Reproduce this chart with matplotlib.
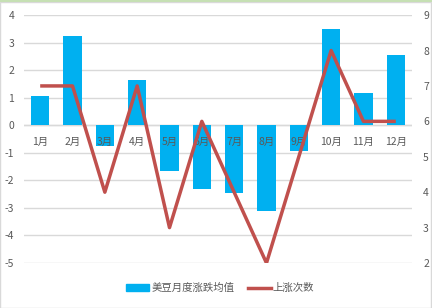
import matplotlib.pyplot as plt
import numpy as np
from matplotlib.lines import Line2D
from matplotlib.patches import Patch, Rectangle

plt.rcParams['font.family'] = ['Noto Sans CJK SC', 'DejaVu Sans']
plt.rcParams['axes.unicode_minus'] = False

months = ['1月', '2月', '3月', '4月', '5月', '6月', '7月', '8月', '9月', '10月', '11月', '12月']
avg_change = [1.05, 3.24, -0.75, 1.65, -1.65, -2.3, -2.47, -3.1, -0.92, 3.5, 1.17, 2.55]
up_count = [7, 7, 4, 7, 3, 6, 4, 2, 5, 8, 6, 6]
bar_name = '美豆月度涨跌均值'
line_name = '上涨次数'

bar_color = '#00B0F0'
line_color = '#C0504D'
txt_color = '#595959'

fig = plt.figure(figsize=(4.32, 3.08), dpi=100)
ax = fig.add_axes([0.0556, 0.146, 0.898, 0.805])
x = np.arange(len(months))

ax.bar(x, avg_change, width=0.56, color=bar_color, zorder=2)
ax.set_ylim(-5, 4)
ax.set_yticks(range(-5, 5))
ax.set_xlim(-0.5, len(months) - 0.5)
ax.set_xticks([])
ax.grid(axis='y', color='#D9D9D9', linewidth=1, zorder=0)
ax.axhline(0, color='#D9D9D9', linewidth=1, zorder=1)
for s in ax.spines.values():
    s.set_visible(False)
ax.tick_params(axis='y', length=0, labelsize=7.5, labelcolor=txt_color, pad=7)

# category labels sit just under the zero line
for i, m in enumerate(months):
    ax.text(i, -0.6, m, ha='center', va='center', fontsize=7.5, color=txt_color, zorder=3)

ax2 = ax.twinx()
ax2.plot(x, up_count, color=line_color, linewidth=2.5, solid_capstyle='butt')
ax2.set_ylim(2, 9)
ax2.set_yticks(range(2, 10))
for s in ax2.spines.values():
    s.set_visible(False)
ax2.tick_params(axis='y', length=0, labelsize=7.5, labelcolor=txt_color, pad=8)

handles = [Patch(color=bar_color), Line2D([], [], color=line_color, linewidth=2.5)]
fig.legend(handles, [bar_name, line_name], loc='center', bbox_to_anchor=(0.51, 0.065),
           ncol=2, frameon=False, fontsize=7.5, labelcolor=txt_color,
           handlelength=2.2, handleheight=0.6, handletextpad=0.2, columnspacing=1.3)

fig.patches.append(Rectangle((0.001, 0.001), 0.996, 0.994, transform=fig.transFigure,
                             fill=False, edgecolor='#D9D9D9', linewidth=1))
fig.patches.append(Rectangle((0, 0.995), 1, 0.005, transform=fig.transFigure,
                             color='#C6E0B4', linewidth=0))

fig.savefig('out.png', dpi=100)
